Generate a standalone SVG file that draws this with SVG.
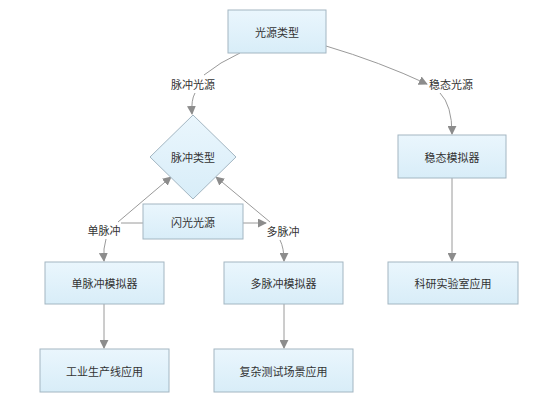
<svg xmlns="http://www.w3.org/2000/svg" width="552" height="402" viewBox="0 0 552 402">
<defs>
<linearGradient id="g" x1="0" y1="0" x2="0" y2="1">
<stop offset="0" stop-color="#eaf6fd"/>
<stop offset="1" stop-color="#d8edf8"/>
</linearGradient>
<marker id="ah" viewBox="0 0 10 10" refX="9" refY="5" markerWidth="9" markerHeight="9" markerUnits="userSpaceOnUse" orient="auto">
<path d="M0,0 L10,5 L0,10 z" fill="#8c8c8c"/>
</marker>
<style>
.box{fill:url(#g);stroke:#a3b6c2;stroke-width:1}
.t{font-family:"Noto Sans CJK SC","Liberation Sans",sans-serif;font-size:11px;fill:#333;text-anchor:middle;dominant-baseline:central}
.c{fill:none;stroke:#9a9a9a;stroke-width:1}
.a{marker-end:url(#ah)}
</style>
</defs>
<rect width="552" height="402" fill="#fff"/>
<g id="connectors">
<path class="c" d="M240,53 Q220,62 204,75"/>
<path class="c a" d="M195,93 Q191,100 192,114"/>
<path class="c a" d="M326,46 Q380,62 427,84"/>
<path class="c a" d="M440,93 Q452,105 452,134"/>
<path class="c a" d="M118,222 L171,177"/>
<path class="c" d="M121,223 L143,223"/>
<path class="c a" d="M243,223 L266,223"/>
<path class="c a" d="M270,222 L216,177"/>
<path class="c a" d="M106,239 Q103,248 104,261"/>
<path class="c a" d="M280,240 Q284,248 284,261"/>
<path class="c a" d="M104,304 L104,348"/>
<path class="c a" d="M284,304 L284,348"/>
<path class="c a" d="M452,178 L452,261"/>
</g>
<g id="n_light"><rect class="box" x="228" y="10" width="98" height="43"/><text class="t" x="277" y="31.5">光源类型</text></g>
<g id="l_pulse"><text class="t" x="193" y="84">脉冲光源</text></g>
<g id="l_steady"><text class="t" x="451" y="84">稳态光源</text></g>
<g id="n_ptype"><polygon class="box" points="193,115 236,157 193,199 150,157"/><text class="t" x="193" y="157">脉冲类型</text></g>
<g id="n_flash"><rect class="box" x="143" y="204" width="100" height="35"/><text class="t" x="193" y="221.5">闪光光源</text></g>
<g id="l_single"><text class="t" x="104" y="230">单脉冲</text></g>
<g id="l_multi"><text class="t" x="283" y="231">多脉冲</text></g>
<g id="n_steady"><rect class="box" x="398" y="135" width="108" height="43"/><text class="t" x="452" y="156.5">稳态模拟器</text></g>
<g id="n_lab"><rect class="box" x="388" y="262" width="130" height="42"/><text class="t" x="453" y="283">科研实验室应用</text></g>
<g id="n_single"><rect class="box" x="45" y="262" width="119" height="42"/><text class="t" x="104.5" y="283">单脉冲模拟器</text></g>
<g id="n_multi"><rect class="box" x="224" y="262" width="119" height="42"/><text class="t" x="283.5" y="283">多脉冲模拟器</text></g>
<g id="n_industry"><rect class="box" x="40" y="349" width="129" height="43"/><text class="t" x="104.5" y="370.5">工业生产线应用</text></g>
<g id="n_complex"><rect class="box" x="214" y="349" width="139" height="43"/><text class="t" x="283.5" y="370.5">复杂测试场景应用</text></g>
</svg>
